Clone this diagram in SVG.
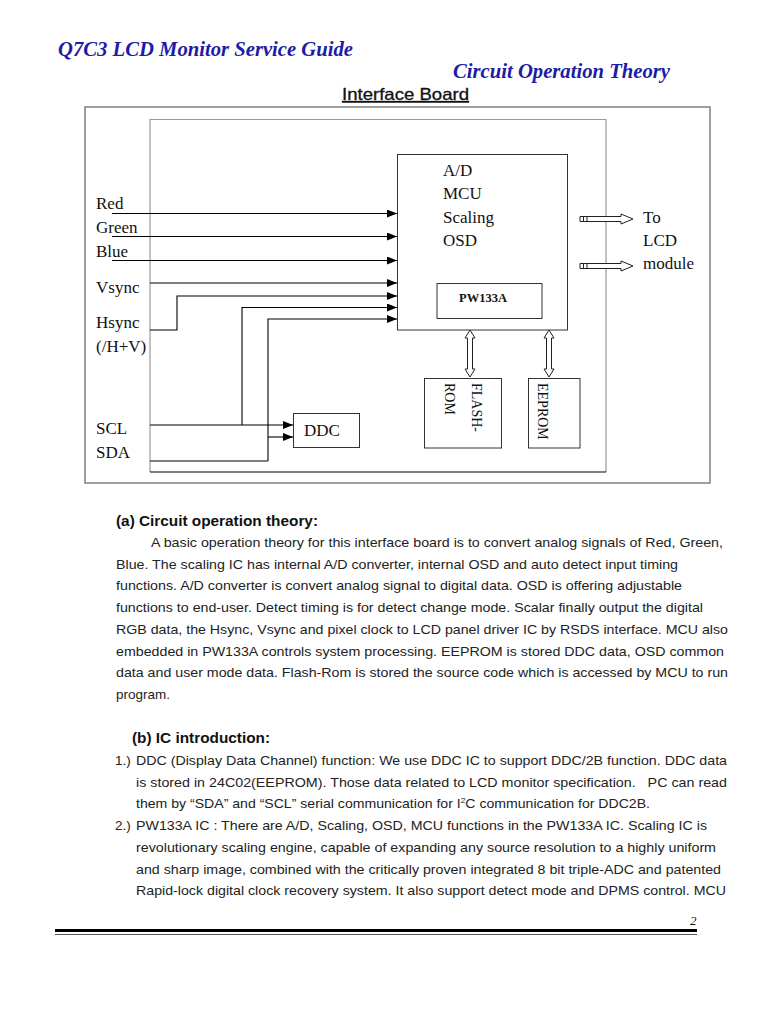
<svg xmlns="http://www.w3.org/2000/svg" width="768" height="1024" viewBox="0 0 768 1024">
<style>
.title{font-family:"Liberation Serif","Times New Roman",serif;font-weight:bold;font-style:italic;font-size:20.5px;fill:#1c1ca6}
.lbl{font-family:"Liberation Serif","Times New Roman",serif;font-size:17px;fill:#111}
.rot{font-family:"Liberation Serif","Times New Roman",serif;font-size:14px;fill:#111}
.body{font-family:"Liberation Sans",Arial,sans-serif;font-size:13.5px;fill:#222}
.bold{font-weight:bold;font-size:14px;fill:#111}
.box{fill:none;stroke:#333;stroke-width:1}
.wire{fill:none;stroke:#000;stroke-width:1.1}
.hollow{fill:#fff;stroke:#222;stroke-width:1}
</style>
<defs>
<marker id="ah" markerUnits="userSpaceOnUse" markerWidth="10" markerHeight="8" refX="10" refY="4" orient="auto">
<path d="M0,0 L10,4 L0,8 Z" fill="#000"/>
</marker>
</defs>
<rect width="768" height="1024" fill="#fff"/>

<text class="title" x="58" y="56" textLength="295" lengthAdjust="spacingAndGlyphs">Q7C3 LCD Monitor Service Guide</text>
<text class="title" x="453" y="78" textLength="217" lengthAdjust="spacingAndGlyphs">Circuit Operation Theory</text>
<text x="342" y="100" font-family="Liberation Sans, Arial, sans-serif" font-size="16.5" fill="#111" stroke="#111" stroke-width="0.3" text-decoration="underline" textLength="127" lengthAdjust="spacingAndGlyphs">Interface Board</text>

<g id="outer-board"><rect x="85" y="107" width="625" height="376" fill="none" stroke="#808080" stroke-width="1.5"/></g>
<g id="inner-board">
<path d="M150,472 V119.5 H606 V472" fill="none" stroke="#999" stroke-width="1.2"/>
<line x1="150" y1="472" x2="606" y2="472" stroke="#000" stroke-width="1.2"/>
</g>

<g id="main-ic">
<rect class="box" x="397.5" y="154.5" width="170" height="175.5"/>
<text class="lbl" x="443" y="176">A/D</text>
<text class="lbl" x="443" y="199">MCU</text>
<text class="lbl" x="443" y="223">Scaling</text>
<text class="lbl" x="443" y="246">OSD</text>
</g>
<g id="pw133a">
<rect class="box" x="437" y="283.5" width="105" height="35"/>
<text x="459" y="302" font-family="Liberation Serif, Times New Roman, serif" font-weight="bold" font-size="12.5" fill="#111">PW133A</text>
</g>
<g id="ddc">
<rect class="box" x="293.5" y="413.5" width="66" height="34" stroke="#555"/>
<text class="lbl" x="304" y="436">DDC</text>
</g>
<g id="flash-rom">
<rect class="box" x="424.5" y="378.5" width="77" height="69.5" stroke="#555"/>
<text class="rot" transform="translate(472,383) rotate(90)">FLASH-</text>
<text class="rot" transform="translate(445,383) rotate(90)">ROM</text>
</g>
<g id="eeprom">
<rect class="box" x="528.5" y="378.5" width="51.5" height="69.5" stroke="#555"/>
<text class="rot" transform="translate(538,383) rotate(90)">EEPROM</text>
</g>
<g id="lcd-label">
<text class="lbl" x="643" y="223">To</text>
<text class="lbl" x="643" y="246">LCD</text>
<text class="lbl" x="643" y="269">module</text>
</g>
<g id="input-labels">
<text class="lbl" x="96" y="209">Red</text>
<text class="lbl" x="96" y="233">Green</text>
<text class="lbl" x="96" y="257">Blue</text>
<text class="lbl" x="96" y="293">Vsync</text>
<text class="lbl" x="96" y="328">Hsync</text>
<text class="lbl" x="96" y="352">(/H+V)</text>
<text class="lbl" x="96" y="434">SCL</text>
<text class="lbl" x="96" y="458">SDA</text>
</g>

<g id="connectors">
<path class="wire" d="M112,213.5 H397" marker-end="url(#ah)"/>
<path class="wire" d="M112,236.5 H397" marker-end="url(#ah)"/>
<path class="wire" d="M112,260.5 H397" marker-end="url(#ah)"/>
<path class="wire" d="M150,283 H397" marker-end="url(#ah)"/>
<path class="wire" d="M150,330 H177 V296 H397" marker-end="url(#ah)"/>
<path class="wire" d="M242,425 V307.5 H397" marker-end="url(#ah)"/>
<path class="wire" d="M268,461 V319 H397" marker-end="url(#ah)"/>
<path class="wire" d="M150,425 H293" marker-end="url(#ah)"/>
<path class="wire" d="M150,461 H268"/>
<path class="wire" d="M268,437 H293" marker-end="url(#ah)"/>
<path class="hollow" d="M580,216.5 H621 V214 L633,219 L621,224 V221.5 H580 Z"/>
<path d="M583.5,216.5 V221.5 M587,216.5 V221.5" stroke="#222" stroke-width="1"/>
<path class="hollow" d="M580,263.5 H621 V261 L633,266 L621,271 V268.5 H580 Z"/>
<path d="M583.5,263.5 V268.5 M587,263.5 V268.5" stroke="#222" stroke-width="1"/>
<path class="hollow" d="M470,330 L475,338 H472.5 V369 H475 L470,377 L465,369 H467.5 V338 H465 Z"/>
<path class="hollow" d="M549,330 L554,338 H551.5 V369 H554 L549,377 L544,369 H546.5 V338 H544 Z"/>
</g>

<g id="text-a">
<text class="body bold" x="116" y="526" textLength="202" lengthAdjust="spacingAndGlyphs">(a) Circuit operation theory:</text>
<text class="body" x="151" y="547" textLength="572" lengthAdjust="spacingAndGlyphs">A basic operation theory for this interface board is to convert analog signals of Red, Green,</text>
<text class="body" x="116" y="568.7" textLength="562" lengthAdjust="spacingAndGlyphs">Blue. The scaling IC has internal A/D converter, internal OSD and auto detect input timing</text>
<text class="body" x="116" y="590.4" textLength="566" lengthAdjust="spacingAndGlyphs">functions. A/D converter is convert analog signal to digital data. OSD is offering adjustable</text>
<text class="body" x="116" y="612.1" textLength="587" lengthAdjust="spacingAndGlyphs">functions to end-user. Detect timing is for detect change mode. Scalar finally output the digital</text>
<text class="body" x="116" y="633.8" textLength="612" lengthAdjust="spacingAndGlyphs">RGB data, the Hsync, Vsync and pixel clock to LCD panel driver IC by RSDS interface. MCU also</text>
<text class="body" x="116" y="655.5" textLength="608" lengthAdjust="spacingAndGlyphs">embedded in PW133A controls system processing. EEPROM is stored DDC data, OSD common</text>
<text class="body" x="116" y="677.2" textLength="612" lengthAdjust="spacingAndGlyphs">data and user mode data. Flash-Rom is stored the source code which is accessed by MCU to run</text>
<text class="body" x="116" y="698.9" textLength="54" lengthAdjust="spacingAndGlyphs">program.</text>
</g>

<g id="text-b">
<text class="body bold" x="132" y="743" textLength="138" lengthAdjust="spacingAndGlyphs">(b) IC introduction:</text>
<text class="body" x="115" y="765">1.)</text>
<text class="body" x="136" y="765" textLength="591" lengthAdjust="spacingAndGlyphs">DDC (Display Data Channel) function: We use DDC IC to support DDC/2B function. DDC data</text>
<text class="body" x="136" y="786.7" textLength="591" lengthAdjust="spacingAndGlyphs" xml:space="preserve">is stored in 24C02(EEPROM). Those data related to LCD monitor specification.   PC can read</text>
<text class="body" x="136" y="808.4" textLength="514" lengthAdjust="spacingAndGlyphs">them by “SDA” and “SCL” serial communication for I<tspan font-size="8" dy="-5">2</tspan><tspan dy="5">C communication for DDC2B.</tspan></text>
<text class="body" x="115" y="830.1">2.)</text>
<text class="body" x="136" y="830.1" textLength="571" lengthAdjust="spacingAndGlyphs">PW133A IC : There are A/D, Scaling, OSD, MCU functions in the PW133A IC. Scaling IC is</text>
<text class="body" x="136" y="851.8" textLength="580" lengthAdjust="spacingAndGlyphs">revolutionary scaling engine, capable of expanding any source resolution to a highly uniform</text>
<text class="body" x="136" y="873.5" textLength="585" lengthAdjust="spacingAndGlyphs">and sharp image, combined with the critically proven integrated 8 bit triple-ADC and patented</text>
<text class="body" x="136" y="895.2" textLength="590" lengthAdjust="spacingAndGlyphs">Rapid-lock digital clock recovery system. It also support detect mode and DPMS control. MCU</text>
</g>

<g id="footer">
<text x="690" y="925" font-family="Liberation Serif, Times New Roman, serif" font-style="italic" font-size="13" fill="#111">2</text>
<rect x="55" y="929" width="642" height="3" fill="#000"/>
<line x1="55" y1="934.5" x2="697" y2="934.5" stroke="#555" stroke-width="1"/>
</g>
</svg>
